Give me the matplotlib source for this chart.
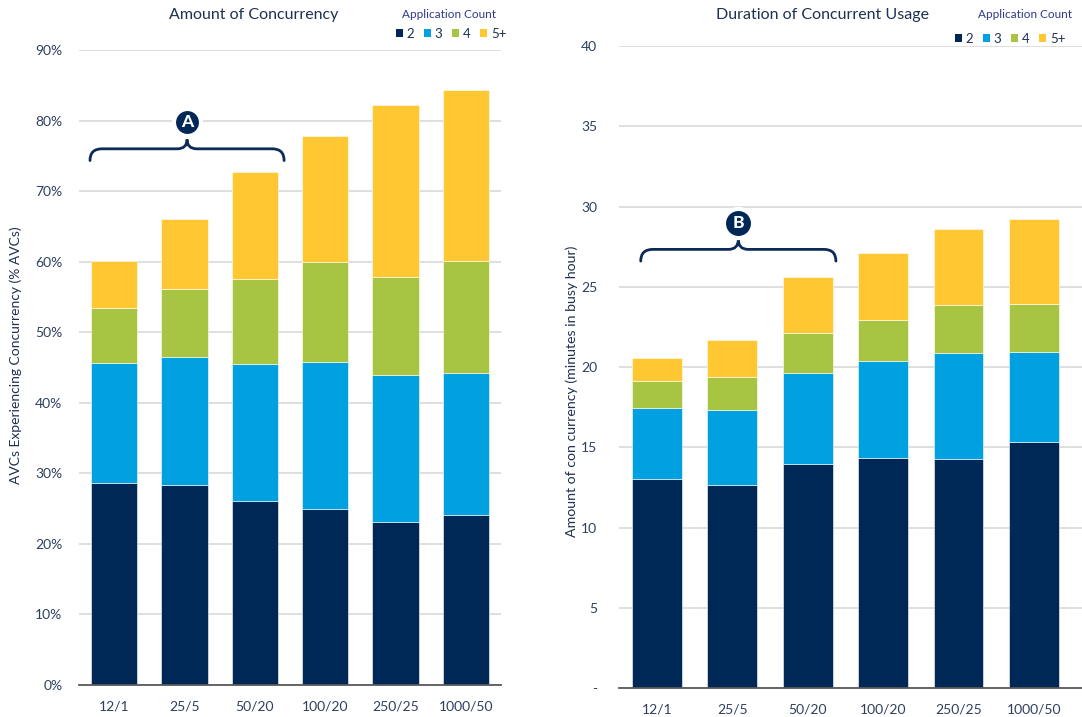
import matplotlib.pyplot as plt
import numpy as np
from matplotlib.patches import Patch
from matplotlib.path import Path
from matplotlib.patches import PathPatch
from matplotlib.ticker import FuncFormatter

plt.rcParams['font.family'] = ['Lato', 'DejaVu Sans']

categories = ['12/1', '25/5', '50/20', '100/20', '250/25', '1000/50']
series = ['2', '3', '4', '5+']
colors = ['#002856', '#00A0E1', '#A8C443', '#FFC832']

# share of AVCs experiencing concurrency (%), per number of applications
pct_2 = [28.6, 28.3, 26.1, 24.9, 23.1, 24.1]
pct_3 = [17.0, 18.2, 19.4, 20.9, 20.8, 20.1]
pct_4 = [7.8, 9.7, 12.0, 14.1, 14.0, 15.9]
pct_5 = [6.7, 9.8, 15.2, 17.9, 24.3, 24.3]

# minutes of concurrent usage in the busy hour
min_2 = [13.0, 12.65, 13.95, 14.35, 14.25, 15.3]
min_3 = [4.45, 4.65, 5.7, 6.0, 6.6, 5.65]
min_4 = [1.65, 2.1, 2.45, 2.6, 3.0, 3.0]
min_5 = [1.45, 2.3, 3.5, 4.15, 4.75, 5.25]

navy_text = '#1F3050'
tick_col = '#2E3F5E'
legend_title_col = '#2E3A8C'


def stacked(ax, stacks, width):
    x = np.arange(len(categories))
    bottom = np.zeros(len(categories))
    for vals, c in zip(stacks, colors):
        ax.bar(x, vals, width, bottom=bottom, color=c, edgecolor='white',
               linewidth=0.4, zorder=2)
        bottom += np.array(vals)
    ax.set_xticks(x)
    ax.set_xticklabels(categories)
    ax.set_xlim(-0.5, len(categories) - 0.5)
    for s in ['top', 'right', 'left']:
        ax.spines[s].set_visible(False)
    ax.spines['bottom'].set_color('#595959')
    ax.spines['bottom'].set_linewidth(1.3)
    ax.spines['bottom'].set_zorder(3)
    ax.grid(axis='y', color='#D9D9D9', linewidth=1.2, zorder=0)
    ax.tick_params(length=0, labelsize=10, colors=tick_col)
    ax.tick_params(axis='x', pad=11)


def brace(ax, x0, x1, y, d_end, d_cusp, rx, rc):
    xm = (x0 + x1) / 2
    verts = [(x0, y - d_end), (x0, y), (x0 + rx, y),
             (xm - rc, y), (xm, y), (xm, y + d_cusp),
             (xm, y), (xm + rc, y),
             (x1 - rx, y), (x1, y), (x1, y - d_end)]
    codes = [Path.MOVETO, Path.CURVE3, Path.CURVE3,
             Path.LINETO, Path.CURVE3, Path.CURVE3,
             Path.CURVE3, Path.CURVE3,
             Path.LINETO, Path.CURVE3, Path.CURVE3]
    ax.add_patch(PathPatch(Path(verts, codes), facecolor='none',
                           edgecolor='#0B2A55', linewidth=2, zorder=4,
                           capstyle='round'))
    return xm


def badge(ax, x, y, letter, size):
    ax.scatter([x], [y], s=size, color='#002856', edgecolor='white',
               linewidth=3, zorder=5, clip_on=False)
    ax.text(x, y, letter, color='white', fontsize=12.5, fontweight='black',
            ha='center', va='center', zorder=6)


fig = plt.figure(figsize=(10.82, 7.17), dpi=100)

# left: amount of concurrency
ax1 = fig.add_axes([0.0731, 0.0446, 0.3900, 0.8856])
stacked(ax1, [pct_2, pct_3, pct_4, pct_5], 0.66)
ax1.set_ylim(0, 90)
ax1.set_yticks(np.arange(0, 91, 10))
ax1.yaxis.set_major_formatter(FuncFormatter(lambda v, p: f'{v:.0f}%'))
ax1.tick_params(axis='y', pad=12)
xm = brace(ax1, -0.345, 2.415, 76.0, 1.66, 1.32, 0.17, 0.14)
badge(ax1, xm, 79.8, 'A', 380)

# right: duration of concurrent usage
ax2 = fig.add_axes([0.5724, 0.0404, 0.4276, 0.8954])
stacked(ax2, [min_2, min_3, min_4, min_5], 0.66)
ax2.set_xlim(-0.5, 5.64)
ax2.set_ylim(0, 40)
ax2.set_yticks(np.arange(0, 41, 5))
ax2.yaxis.set_major_formatter(FuncFormatter(lambda v, p: '-' if v == 0 else f'{v:.0f}'))
ax2.tick_params(axis='y', pad=16)
xm = brace(ax2, -0.216, 2.374, 27.33, 0.73, 0.62, 0.16, 0.13)
badge(ax2, xm, 29.0, 'B', 440)

# titles and axis labels
fig.text(254 / 1082, 1 - 15 / 717, 'Amount of Concurrency', fontsize=11.5,
         color=navy_text, ha='center', va='center')
fig.text(823 / 1082, 1 - 15 / 717, 'Duration of Concurrent Usage', fontsize=11.5,
         color=navy_text, ha='center', va='center')
fig.text(16 / 1082, 1 - 355 / 717, 'AVCs Experiencing Concurrency (% AVCs)',
         rotation=90, fontsize=10, color=navy_text, ha='center', va='center')
fig.text(572 / 1082, 1 - 391 / 717, 'Amount of con currency (minutes in busy hour)',
         rotation=90, fontsize=10.2, color=navy_text, ha='center', va='center')

# legends
handles = [Patch(facecolor=c, edgecolor='none') for c in colors]
for tx, lx, ly in [(449, 451, 34), (1025, 1010, 39)]:
    fig.text(tx / 1082, 1 - 15 / 717, 'Application Count', fontsize=8.5,
             color=legend_title_col, ha='center', va='center')
    fig.legend(handles, series, loc='center', ncol=4,
               bbox_to_anchor=(lx / 1082, 1 - ly / 717), frameon=False,
               fontsize=9.5, handlelength=0.55, handleheight=0.55,
               handletextpad=0.25, columnspacing=0.75, borderpad=0,
               labelcolor=navy_text)

fig.savefig('out.png', dpi=100)
